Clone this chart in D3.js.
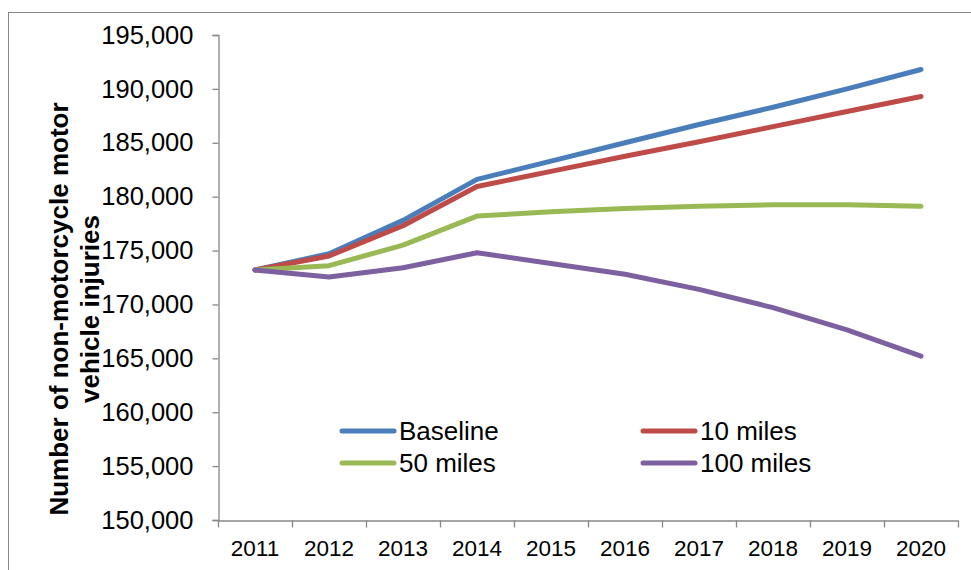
<!DOCTYPE html>
<html>
<head>
<meta charset="utf-8">
<script src="https://cdnjs.cloudflare.com/ajax/libs/d3/7.8.5/d3.min.js"></script>
<style>
  body { margin: 0; background: #fff; }
  text { font-family: "Liberation Sans", Arial, sans-serif; fill: #000; }
</style>
</head>
<body>
<div id="chart"></div>
<script>
var years = ["2011","2012","2013","2014","2015","2016","2017","2018","2019","2020"]
var baseline = [173200, 174700, 177800, 181600, 183300, 185000, 186700, 188300, 190000, 191800]
var tenMiles = [173200, 174500, 177300, 180950, 182350, 183750, 185100, 186500, 187900, 189300]
var fiftyMiles = [173200, 173600, 175500, 178200, 178600, 178900, 179100, 179250, 179250, 179100]
var hundredMiles = [173200, 172550, 173400, 174800, 173800, 172800, 171400, 169700, 167650, 165200]
var yTicks = [150000, 155000, 160000, 165000, 170000, 175000, 180000, 185000, 190000, 195000]

var series = [
  {name: "Baseline", values: baseline, color: "#4A7EBB"},
  {name: "10 miles", values: tenMiles, color: "#BE4B48"},
  {name: "50 miles", values: fiftyMiles, color: "#98B954"},
  {name: "100 miles", values: hundredMiles, color: "#7D60A0"}
]

var width = 971, height = 570
var axisColor = "#878787"

var svg = d3.select("#chart").append("svg")
  .attr("width", width)
  .attr("height", height)

// outer frame (only top and left edges are visible)
svg.append("rect")
  .attr("x", 8.5).attr("y", 12.5)
  .attr("width", 1000).attr("height", 1000)
  .attr("fill", "none")
  .attr("stroke", axisColor)

var x = d3.scaleBand()
  .domain(years)
  .range([218, 958])
  .padding(0)

var y = d3.scaleLinear()
  .domain([150000, 195000])
  .range([520, 35])

// y axis
var yAxis = svg.append("g")
  .attr("transform", "translate(218.5,0)")
  .call(d3.axisLeft(y).tickValues(yTicks).tickSize(6).tickPadding(19).tickFormat(d3.format(",")))
yAxis.select(".domain").attr("stroke", axisColor).attr("stroke-width", 1.3)
yAxis.selectAll(".tick line").attr("stroke", axisColor).attr("stroke-width", 1.3)
yAxis.selectAll(".tick text")
  .style("font-family", '"Liberation Sans", Arial, sans-serif')
  .style("font-size", "25.5px")
  .attr("fill", "#000")

// x axis
var xAxis = svg.append("g")
  .attr("transform", "translate(0,520.5)")
  .call(d3.axisBottom(x).tickSize(0).tickPadding(20))
xAxis.select(".domain").attr("stroke", axisColor).attr("stroke-width", 1.3)
xAxis.selectAll(".tick text")
  .style("font-family", '"Liberation Sans", Arial, sans-serif')
  .style("font-size", "22.5px")
  .attr("fill", "#000")

var bounds = years.map(function(d) { return x(d) }).concat([x.range()[1]])
xAxis.selectAll(".bound")
  .data(bounds)
  .enter().append("line")
  .attr("class", "bound")
  .attr("x1", function(d) { return d + 0.5 })
  .attr("x2", function(d) { return d + 0.5 })
  .attr("y1", 0).attr("y2", 7)
  .attr("stroke", axisColor)
  .attr("stroke-width", 1.3)

// y axis title
var title = svg.append("text")
  .attr("transform", "translate(0,309) rotate(-90)")
  .attr("text-anchor", "middle")
  .style("font-size", "26px")
  .style("font-weight", "bold")
title.append("tspan").attr("x", 0).attr("y", 68).text("Number of non-motorcycle motor")
title.append("tspan").attr("x", 0).attr("y", 99).text("vehicle injuries")

// lines
var line = d3.line()
  .x(function(d, i) { return x(years[i]) + x.bandwidth() / 2 })
  .y(function(d) { return y(d) })

svg.selectAll(".series")
  .data(series)
  .enter().append("path")
  .attr("class", "series")
  .attr("d", function(s) { return line(s.values) })
  .attr("fill", "none")
  .attr("stroke", function(s) { return s.color })
  .attr("stroke-width", 5)
  .attr("stroke-linejoin", "round")
  .attr("stroke-linecap", "round")

// legend
var legendPos = [[340, 431], [641, 431], [340, 463], [641, 463]]
var legend = svg.selectAll(".legend")
  .data(series)
  .enter().append("g")
  .attr("class", "legend")
  .attr("transform", function(d, i) { return "translate(" + legendPos[i][0] + "," + legendPos[i][1] + ")" })

legend.append("line")
  .attr("x1", 2).attr("x2", 54)
  .attr("y1", 0).attr("y2", 0)
  .attr("stroke", function(d) { return d.color })
  .attr("stroke-width", 5)
  .attr("stroke-linecap", "round")

legend.append("text")
  .attr("x", 59)
  .attr("y", 0)
  .attr("dy", "0.35em")
  .style("font-size", "26px")
  .text(function(d) { return d.name })
</script>
</body>
</html>
